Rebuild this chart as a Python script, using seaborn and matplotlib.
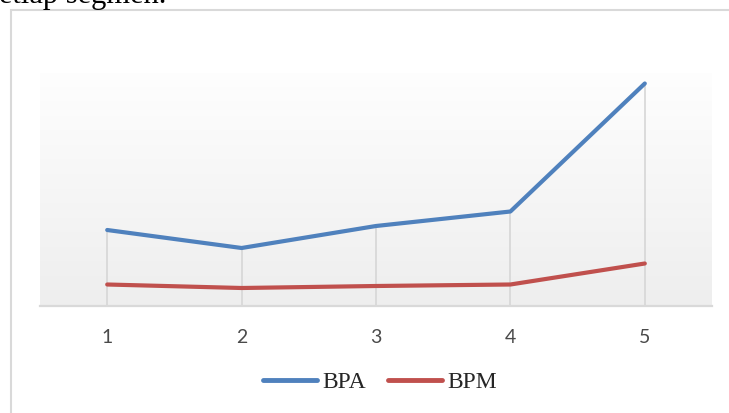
import numpy as np
import pandas as pd
import matplotlib
matplotlib.use("Agg")
import matplotlib.pyplot as plt
from matplotlib.patches import Rectangle
import seaborn as sns

# Segment index and the two series
segments = [1, 2, 3, 4, 5]
bpa = [75.5, 57.5, 79.5, 94, 222]
bpm = [21, 17.5, 19.5, 21, 42]
series_names = ["BPA", "BPM"]
series_colors = ["#4F81BD", "#C0504D"]

df = pd.DataFrame({
    "segmen": segments * 2,
    "nilai": bpa + bpm,
    "seri": [series_names[0]] * len(segments) + [series_names[1]] * len(segments),
})

sns.set_theme(style="white")
W, H = 729, 413
fig = plt.figure(figsize=(W / 100, H / 100), dpi=100)
ax = fig.add_axes([40 / W, 1 - 305.5 / H, (712 - 40) / W, (305.5 - 73) / H])

# soft vertical gradient in the plot area
grad = np.linspace(0, 1, 256).reshape(-1, 1)
cmap = matplotlib.colors.LinearSegmentedColormap.from_list("bg", ["#eeeeee", "#fefefe"])
ax.imshow(grad, aspect="auto", cmap=cmap, origin="lower",
          extent=[0, 1, 0, 1], transform=ax.transAxes, zorder=0)

# drop lines from the axis to the highest series at each segment
tops = [max(a, b) for a, b in zip(bpa, bpm)]
ax.vlines(segments, 0, tops, color="#d6d6d6", lw=1.2, zorder=1)

sns.lineplot(data=df, x="segmen", y="nilai", hue="seri", palette=series_colors,
             lw=3.0, ax=ax, legend=False, zorder=3,
             solid_capstyle="round", solid_joinstyle="round")

ax.set_xlim(0.5, 5.5)
ax.set_ylim(0, 232.5)
ax.set_xticks(segments)
ax.set_xticklabels([str(s) for s in segments], fontfamily="Lato", fontsize=14,
                   color="#4a4a4a")
ax.tick_params(axis="x", length=0, pad=17)
ax.set_yticks([])
ax.set_xlabel("")
ax.set_ylabel("")
for side in ["top", "left", "right"]:
    ax.spines[side].set_visible(False)
ax.spines["bottom"].set_color("#d9d9d9")
ax.spines["bottom"].set_linewidth(1.6)
ax.spines["bottom"].set_zorder(2)

# legend below the plot
handles = [plt.Line2D([], [], color=c, lw=3.5, solid_capstyle="round") for c in series_colors]
fig.legend(handles, series_names, loc="center", ncol=2, frameon=False,
           bbox_to_anchor=(380 / W, 1 - 382 / H),
           prop={"family": "Liberation Serif", "size": 17},
           handlelength=2.3, handletextpad=0.25, columnspacing=0.9)

# chart frame
fig.add_artist(Rectangle((11 / W, -0.1), 1.2, (H - 10) / H + 0.1,
                         transform=fig.transFigure, fill=False,
                         ec="#d9d9d9", lw=1.5, zorder=0))

# preceding body text, cut at the top edge
fig.text(-13 / W, 1 - 3 / H, "setiap segmen.", family="Liberation Serif",
         fontsize=22, color="black", va="baseline", ha="left")

fig.savefig("out.png", dpi=100)
